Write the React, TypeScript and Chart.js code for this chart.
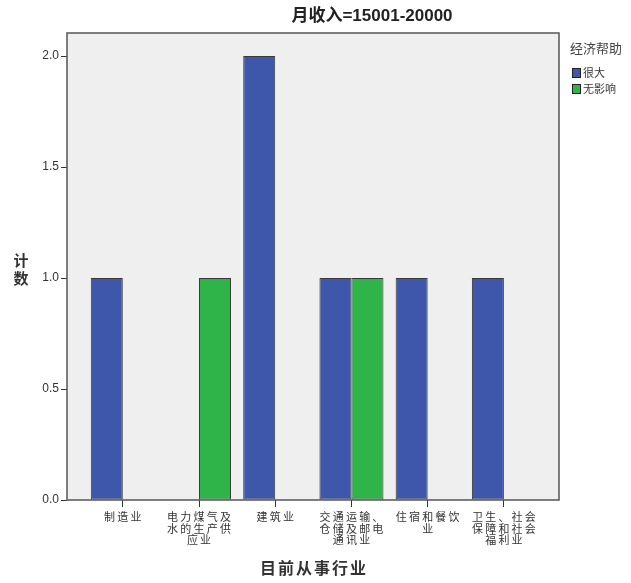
import React, { useEffect, useRef } from "react";
import { Chart, registerables } from "chart.js";

Chart.register(...registerables);

const chartTitle = "月收入=15001-20000";
const xAxisTitle = "目前从事行业";
const yAxisTitle = ["计", "数"];
const legendTitle = "经济帮助";

const categories = [
  "制造业",
  "电力煤气及水的生产供应业",
  "建筑业",
  "交通运输、仓储及邮电通讯业",
  "住宿和餐饮业",
  "卫生、社会保障和社会福利业",
];
const tickLabels = [
  ["制造业"],
  ["电力煤气及", "水的生产供", "应业"],
  ["建筑业"],
  ["交通运输、", "仓储及邮电", "通讯业"],
  ["住宿和餐饮", "业"],
  ["卫生、社会", "保障和社会", "福利业"],
];
const seriesNames = ["很大", "无影响"];
const henDa: (number | null)[] = [1, null, 2, 1, 1, 1];
const wuYingXiang: (number | null)[] = [null, 1, null, 1, null, null];
const yTicks = [0, 0.5, 1, 1.5, 2];

const seriesColors = ["#3e57aa", "#2fb449"];
const CJK = '"Noto Sans CJK SC", "Liberation Sans", sans-serif';
const LAT = '"Liberation Sans", "Noto Sans CJK SC", sans-serif';

const framePlugin = {
  id: "frame",
  beforeDraw(chart: any) {
    const { ctx, chartArea: a } = chart;
    ctx.save();
    ctx.fillStyle = "#efefef";
    ctx.fillRect(a.left, a.top, a.right - a.left, a.bottom - a.top);
    ctx.restore();
  },
  afterDraw(chart: any) {
    const { ctx, chartArea: a } = chart;
    ctx.save();
    ctx.strokeStyle = "#555555";
    ctx.lineWidth = 1.5;
    ctx.strokeRect(a.left, a.top, a.right - a.left, a.bottom - a.top);

    // x tick labels, positioned through the x scale
    const xs = chart.scales.x;
    ctx.font = `11px ${CJK}`;
    ctx.fillStyle = "#333";
    ctx.textAlign = "center";
    ctx.textBaseline = "middle";
    (ctx as any).letterSpacing = "2.2px";
    tickLabels.forEach((lines, i) => {
      const px = xs.getPixelForValue(i) + 1.1;
      lines.forEach((ln, j) => {
        ctx.fillText(ln, px, a.bottom + 17 + j * 11.4);
      });
    });
    (ctx as any).letterSpacing = "0px";

    // title
    ctx.fillStyle = "#222";
    ctx.font = `bold 17px ${LAT}`;
    ctx.fillText(chartTitle, 372, 16);

    // y title (stacked)
    ctx.font = `bold 15px ${CJK}`;
    ctx.fillStyle = "#333";
    ctx.fillText(yAxisTitle[0], 21, 260);
    ctx.fillText(yAxisTitle[1], 21, 278);

    // x title
    ctx.font = `bold 16px ${CJK}`;
    (ctx as any).letterSpacing = "2px";
    ctx.fillText(xAxisTitle, 314, 568);
    (ctx as any).letterSpacing = "0px";

    // legend
    ctx.textAlign = "left";
    ctx.font = `13px ${CJK}`;
    ctx.fillStyle = "#444";
    ctx.fillText(legendTitle, 570, 48);
    ctx.font = `11px ${CJK}`;
    seriesNames.forEach((name, i) => {
      const y = 73 + i * 16;
      ctx.fillStyle = seriesColors[i];
      ctx.fillRect(572, y - 5, 9, 10);
      ctx.strokeStyle = "#222";
      ctx.lineWidth = 1;
      ctx.strokeRect(572.5, y - 4.5, 8, 9);
      ctx.fillStyle = "#333";
      ctx.fillText(name, 583, y);
    });
    ctx.restore();
  },
};

export default function App() {
  const ref = useRef<HTMLCanvasElement>(null);
  useEffect(() => {
    if (!ref.current) return;
    const toPoints = (arr: (number | null)[]) => arr.map((v, i) => ({ x: i, y: v }));
    const chart = new Chart(ref.current, {
      type: "bar",
      data: {
        datasets: [
          {
            label: seriesNames[0],
            data: toPoints(henDa) as any,
            backgroundColor: seriesColors[0],
            borderColor: "rgba(25,25,25,0.85)",
            borderWidth: 1,
            borderSkipped: false,
          },
          {
            label: seriesNames[1],
            data: toPoints(wuYingXiang) as any,
            backgroundColor: seriesColors[1],
            borderColor: "rgba(25,25,25,0.85)",
            borderWidth: 1,
            borderSkipped: false,
          },
        ],
      },
      options: {
        responsive: false,
        animation: false,
        devicePixelRatio: 1,
        categoryPercentage: 0.84,
        barPercentage: 1,
        layout: { padding: { left: 0, right: 72, top: 33, bottom: 0 } },
        plugins: { legend: { display: false }, tooltip: { enabled: false }, title: { display: false } },
        scales: {
          x: {
            type: "linear",
            min: -0.732,
            max: 5.723,
            offset: false,
            afterFit: (s: any) => {
              s.height = 83;
            },
            afterBuildTicks: (s: any) => {
              s.ticks = categories.map((_, i) => ({ value: i }));
            },
            grid: { display: true, offset: false, drawOnChartArea: false, tickLength: 7, color: "#333", lineWidth: 1 },
            border: { display: false },
            ticks: {
              display: false,
              autoSkip: false,
              maxRotation: 0,
            },
          },
          y: {
            type: "linear",
            min: 0,
            max: 2.104,
            afterFit: (s: any) => {
              s.width = 67;
            },
            afterBuildTicks: (s: any) => {
              s.ticks = yTicks.map((v) => ({ value: v }));
            },
            grid: { display: true, drawOnChartArea: false, tickLength: 6, color: "#333", lineWidth: 1 },
            border: { display: false },
            ticks: {
              padding: 2,
              color: "#333",
              font: { family: LAT, size: 12 },
              callback: (v: any) => Number(v).toFixed(1),
            },
          },
        },
      },
      plugins: [framePlugin],
    } as any);
    return () => chart.destroy();
  }, []);
  return (
    <div style={{ position: "fixed", left: 0, top: 0, width: 631, height: 583, background: "#fff" }}>
      <canvas ref={ref} width={631} height={583} />
    </div>
  );
}
